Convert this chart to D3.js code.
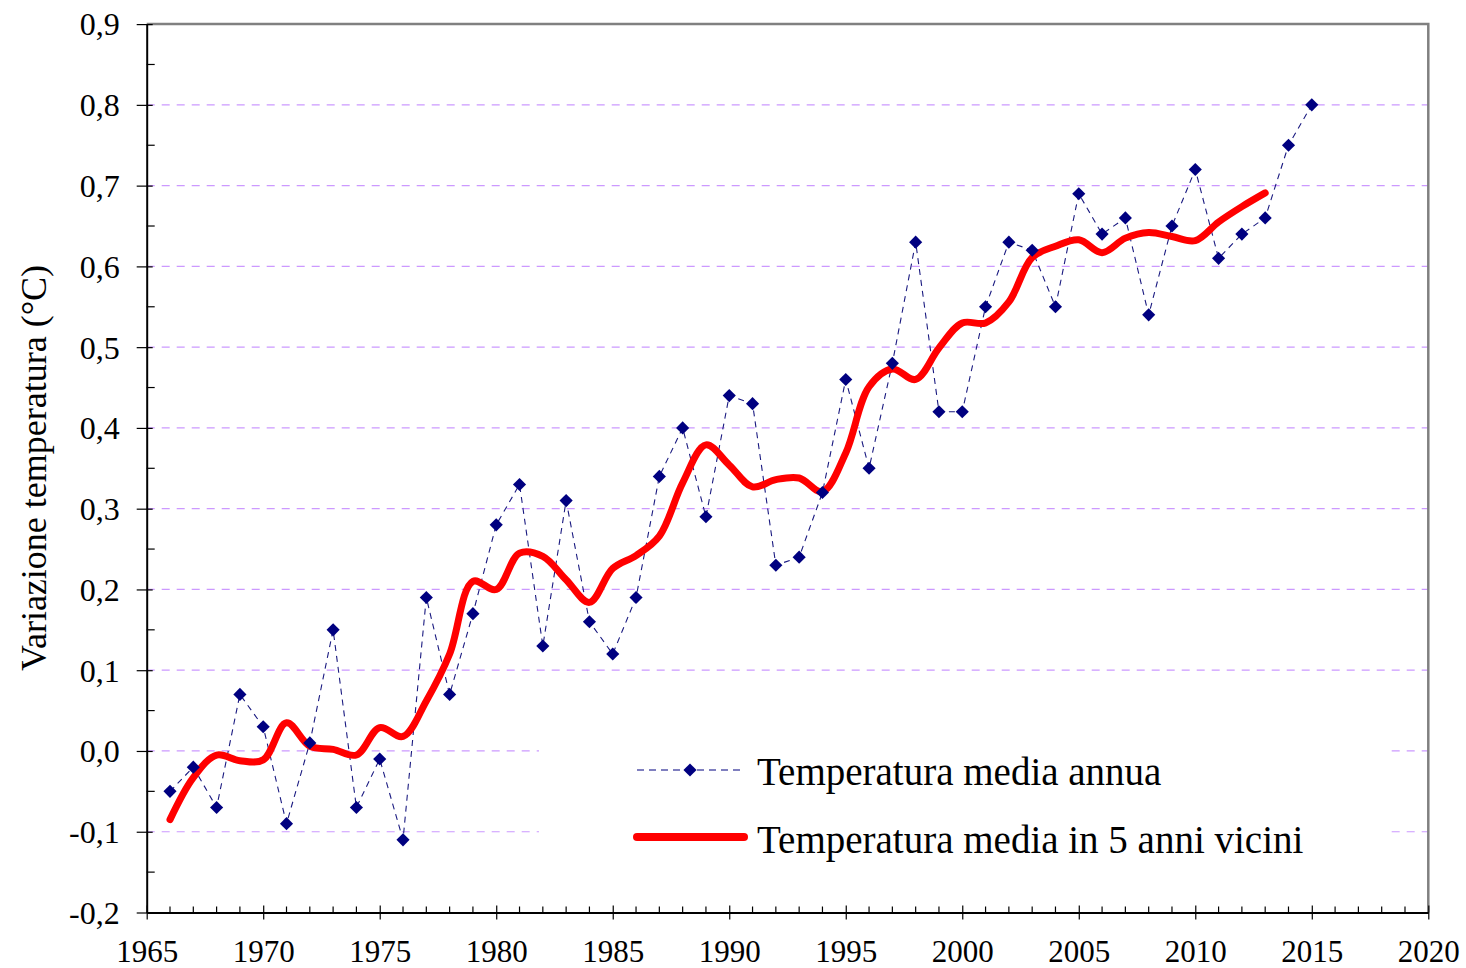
<!DOCTYPE html>
<html>
<head>
<meta charset="utf-8">
<script src="https://cdn.jsdelivr.net/npm/d3@7"></script>
<style>
body { margin: 0; background: white; }
text { font-family: "Liberation Serif", "Times New Roman", serif; fill: black; }
</style>
</head>
<body>
<div id="chart"></div>
<script>
// annual series (dots + dashed line)
let years = [1966,1967,1968,1969,1970,1971,1972,1973,1974,1975,1976,1977,1978,1979,1980,
  1981,1982,1983,1984,1985,1986,1987,1988,1989,1990,1991,1992,1993,1994,1995,1996,1997,
  1998,1999,2000,2001,2002,2003,2004,2005,2006,2007,2008,2009,2010,2011,2012,2013,2014,2015];
let annualValues = [-0.05,-0.02,-0.07,0.07,0.03,-0.09,0.01,0.15,-0.07,-0.01,-0.11,0.19,0.07,0.17,0.28,
  0.33,0.13,0.31,0.16,0.12,0.19,0.34,0.40,0.29,0.44,0.43,0.23,0.24,0.32,0.46,0.35,0.48,
  0.63,0.42,0.42,0.55,0.63,0.62,0.55,0.69,0.64,0.66,0.54,0.65,0.72,0.61,0.64,0.66,0.75,0.80];

// 5-year values (red line)
let smoothYears = years.slice(0, 48);
let smoothValues = [-0.085,-0.033,-0.005,-0.012,-0.011,0.035,0.006,0.002,-0.005,0.029,0.018,0.062,0.12,0.21,0.20,
  0.245,0.241,0.212,0.184,0.226,0.242,0.266,0.332,0.379,0.354,0.327,0.336,0.338,0.321,0.369,0.451,0.473,
  0.460,0.499,0.530,0.530,0.556,0.611,0.625,0.633,0.617,0.635,0.642,0.637,0.632,0.655,0.674,0.691];

let xTicks = [1965,1970,1975,1980,1985,1990,1995,2000,2005,2010,2015,2020];
let yTicks = [-0.2,-0.1,0,0.1,0.2,0.3,0.4,0.5,0.6,0.7,0.8,0.9];
let seriesNames = ["Temperatura media annua", "Temperatura media in 5 anni vicini"];
let yTitle = "Variazione temperatura (°C)";

let dim = { width: 1466, height: 968 };
let plot = { left: 146.7, right: 1428.3, top: 24.1, bottom: 912.5 };

let svg = d3.select('#chart').append('svg')
    .attr('width', dim.width)
    .attr('height', dim.height)
    .style('display', 'block');

let x = d3.scaleLinear().domain([1965, 2020]).range([plot.left, plot.right]);
let y = d3.scaleLinear().domain([-0.2, 0.9]).range([plot.bottom, plot.top]);

let fmt = d => d3.format('.1f')(d).replace('.', ',').replace('−', '-');

// gridlines
svg.append('g')
  .selectAll('line')
  .data(yTicks.filter(d => d > -0.2 && d < 0.9))
  .join('line')
    .attr('x1', plot.left).attr('x2', plot.right)
    .attr('y1', d => y(d)).attr('y2', d => y(d))
    .attr('stroke', '#cc99ff')
    .attr('stroke-width', 1.2)
    .attr('stroke-dasharray', '8,7');

// plot border top/right
svg.append('path')
    .attr('d', `M${plot.left},${plot.top}H${plot.right}V${plot.bottom}`)
    .attr('fill', 'none')
    .attr('stroke', '#808080')
    .attr('stroke-width', 2.5);

// legend background hides the gridlines
svg.append('rect')
    .attr('x', 539).attr('y', 712)
    .attr('width', 851).attr('height', 168)
    .attr('fill', 'white');

// y axis
let yAxis = d3.axisLeft(y).tickValues(yTicks).tickFormat(fmt).tickSizeInner(10).tickSizeOuter(0).tickPadding(17);
let gy = svg.append('g').attr('transform', `translate(${plot.left},0)`).call(yAxis);
gy.select('.domain').attr('stroke', 'black').attr('stroke-width', 2);
gy.selectAll('.tick line').attr('x2', 6).attr('x1', -10).attr('stroke-width', 1.2);
gy.selectAll('.tick text').style('font-size', '32px').attr('dy', '0.34em');
gy.selectAll('.minor')
  .data(d3.range(-0.15, 0.9, 0.1))
  .join('line')
    .attr('class', 'minor')
    .attr('x1', 0).attr('x2', 8)
    .attr('y1', d => y(d)).attr('y2', d => y(d))
    .attr('stroke', 'black').attr('stroke-width', 1.2);

// x axis
let xAxis = d3.axisBottom(x).tickValues(xTicks).tickFormat(d3.format('d')).tickSizeInner(6).tickSizeOuter(0).tickPadding(21);
let gx = svg.append('g').attr('transform', `translate(0,${plot.bottom})`).call(xAxis);
gx.select('.domain').attr('stroke', 'black').attr('stroke-width', 2);
gx.selectAll('.tick line').attr('y1', -7).attr('y2', 7).attr('stroke-width', 1.2);
gx.selectAll('.tick text').style('font-size', '31px');
gx.selectAll('.minor')
  .data(d3.range(1966, 2020).filter(d => d % 5 != 0))
  .join('line')
    .attr('class', 'minor')
    .attr('x1', d => x(d)).attr('x2', d => x(d))
    .attr('y1', -6).attr('y2', 0)
    .attr('stroke', 'black').attr('stroke-width', 1.2);

// y title
svg.append('text')
    .attr('transform', 'translate(46,468) rotate(-90)')
    .attr('text-anchor', 'middle')
    .style('font-size', '36px')
    .text(yTitle);

// annual dashed line
let annual = years.map((d, i) => ({ year: d, value: annualValues[i] }));
let smooth = smoothYears.map((d, i) => ({ year: d, value: smoothValues[i] }));

svg.append('path')
    .datum(annual)
    .attr('d', d3.line().x(d => x(d.year)).y(d => y(d.value)))
    .attr('fill', 'none')
    .attr('stroke', '#1a1a80')
    .attr('stroke-width', 1.1)
    .attr('stroke-dasharray', '6,5');

// red 5-year line
svg.append('path')
    .datum(smooth)
    .attr('d', d3.line().x(d => x(d.year)).y(d => y(d.value)).curve(d3.curveCatmullRom))
    .attr('fill', 'none')
    .attr('stroke', '#ff0000')
    .attr('stroke-width', 7)
    .attr('stroke-linecap', 'round')
    .attr('stroke-linejoin', 'round');

let diamond = d3.symbol().type(d3.symbolDiamond2).size(110);
svg.append('g')
  .selectAll('path')
  .data(annual)
  .join('path')
    .attr('d', diamond)
    .attr('transform', d => `translate(${x(d.year)},${y(d.value)})`)
    .attr('fill', '#000080');

// legend
let lg = svg.append('g');
lg.append('line')
    .attr('x1', 637).attr('x2', 742).attr('y1', 770).attr('y2', 770)
    .attr('stroke', '#5555aa').attr('stroke-width', 1.3).attr('stroke-dasharray', '7,5');
lg.append('path')
    .attr('d', diamond)
    .attr('transform', 'translate(690,770)')
    .attr('fill', '#000080');
lg.append('line')
    .attr('x1', 637).attr('x2', 744).attr('y1', 837).attr('y2', 837)
    .attr('stroke', '#ff0000').attr('stroke-width', 8).attr('stroke-linecap', 'round');
lg.selectAll('text')
  .data(seriesNames)
  .join('text')
    .attr('x', 757)
    .attr('y', (d, i) => 785 + i * 68)
    .style('font-size', '39px')
    .text(d => d);
</script>
</body>
</html>
